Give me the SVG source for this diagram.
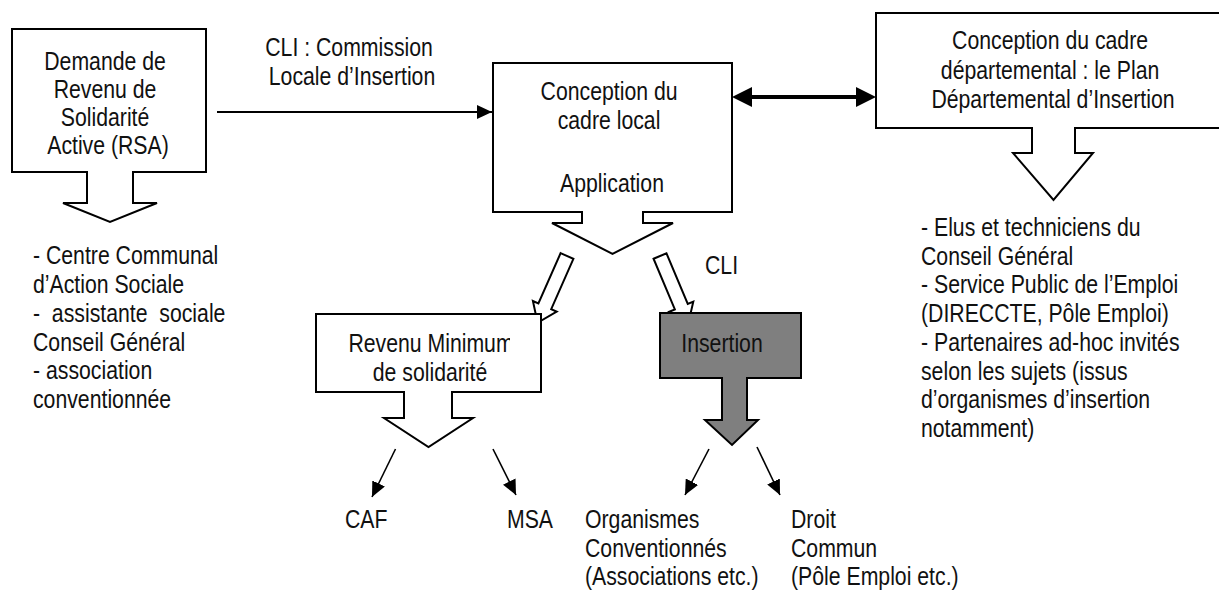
<svg xmlns="http://www.w3.org/2000/svg" width="1219" height="590" viewBox="0 0 1219 590">
  <style>
    .t { font-family: "Liberation Sans", Arial, sans-serif; font-size: 25px; fill: #111; }
    .c { text-anchor: middle; }
    .shape { fill: #fff; stroke: #000; stroke-width: 2; stroke-linejoin: miter; }
    .dark { fill: #7f7f7f; }
    .wire { fill: none; stroke: #000; stroke-width: 2; }
    .thin { fill: none; stroke: #000; stroke-width: 1.6; }
  </style>
  <defs>
    <marker id="head" markerWidth="15" markerHeight="14" refX="15" refY="7" orient="auto" markerUnits="userSpaceOnUse">
      <path d="M0,0 L15,7 L0,14 Z" fill="#000"/>
    </marker>
    <!-- hollow block arrow, pointing down in local space -->
    <path id="block" d="M-7,0 L7,0 L7,55 L13,55 L0,73 L-13,55 L-7,55 Z"/>
    <clipPath id="clipRevenu">
      <rect x="316" y="314" width="194" height="78"/>
    </clipPath>
  </defs>

  <g id="connectors">
    <!-- RSA request to local framework -->
    <line class="wire" x1="217" y1="112" x2="492" y2="112" marker-end="url(#head)"/>
    <!-- two-way link between local and departmental frameworks -->
    <path d="M732,97 L752,87 L752,95 L856,95 L856,87 L876,97 L856,107 L856,99 L752,99 L752,107 Z" fill="#000"/>
    <!-- hollow arrows from the application step -->
    <use href="#block" class="shape" transform="translate(567,256) rotate(23.8)"/>
    <use href="#block" class="shape" transform="translate(660,256) rotate(-22.8)"/>
    <!-- outcome arrows -->
    <line class="thin" x1="395.5" y1="449" x2="372" y2="497" marker-end="url(#head)"/>
    <line class="thin" x1="493" y1="449" x2="516" y2="495" marker-end="url(#head)"/>
    <line class="thin" x1="709" y1="449" x2="685" y2="495" marker-end="url(#head)"/>
    <line class="thin" x1="757" y1="447" x2="780" y2="495" marker-end="url(#head)"/>
  </g>

  <g id="node-rsa">
    <path class="shape" d="M12,29 H206 V172 H133 V203 H157 L110,222 L63,203 H87 V172 H12 Z"/>
    <text class="t c" transform="translate(108,0) scale(0.85,1)">
      <tspan x="0" y="70">Demande de</tspan>
      <tspan x="0" y="98">Revenu de</tspan>
      <tspan x="0" y="126">Solidarité</tspan>
      <tspan x="0" y="154">Active (RSA)</tspan>
    </text>
  </g>

  <g id="label-cli">
    <text class="t c" transform="translate(352,0) scale(0.85,1)">
      <tspan x="0" y="56">CLI : Commission</tspan>
      <tspan x="0" y="85">Locale d’Insertion</tspan>
    </text>
  </g>

  <g id="node-local">
    <path class="shape" d="M493,63 H732 V212 H643 V223 H673 L612.5,254 L552,223 H582 V212 H493 Z"/>
    <text class="t c" transform="translate(612,0) scale(0.85,1)">
      <tspan x="0" y="100">Conception du</tspan>
      <tspan x="0" y="129">cadre local</tspan>
      <tspan x="0" y="192">Application</tspan>
    </text>
  </g>

  <g id="node-departemental">
    <path class="shape" d="M876,13 H1232 V128 H1075 V153 H1093 L1053.5,200 L1013,153 H1032 V128 H876 Z"/>
    <text class="t c" transform="translate(1053,0) scale(0.85,1)">
      <tspan x="0" y="49.5">Conception du cadre</tspan>
      <tspan x="0" y="79">départemental : le Plan</tspan>
      <tspan x="0" y="108">Départemental d’Insertion</tspan>
    </text>
  </g>

  <g id="list-accueil">
    <text class="t" transform="translate(33,0) scale(0.85,1)">
      <tspan x="0" y="264">- Centre Communal</tspan>
      <tspan x="0" y="293">d’Action Sociale</tspan>
      <tspan x="0" y="322" xml:space="preserve">-  assistante  sociale</tspan>
      <tspan x="0" y="350.7">Conseil Général</tspan>
      <tspan x="0" y="379.5">- association</tspan>
      <tspan x="0" y="408">conventionnée</tspan>
    </text>
  </g>

  <g id="list-membres">
    <text class="t" transform="translate(921,0) scale(0.85,1)">
      <tspan x="0" y="236">- Elus et techniciens du</tspan>
      <tspan x="0" y="264.75">Conseil Général</tspan>
      <tspan x="0" y="293.5">- Service Public de l’Emploi</tspan>
      <tspan x="0" y="322.25">(DIRECCTE, Pôle Emploi)</tspan>
      <tspan x="0" y="351">- Partenaires ad-hoc invités</tspan>
      <tspan x="0" y="379.75">selon les sujets (issus</tspan>
      <tspan x="0" y="408.5">d’organismes d’insertion</tspan>
      <tspan x="0" y="437.25">notamment)</tspan>
    </text>
  </g>

  <g id="label-cli-2">
    <text class="t" transform="translate(705,274) scale(0.85,1)">CLI</text>
  </g>

  <g id="node-revenu">
    <path class="shape" d="M316,314 H541 V392 H452 V418 H473 L428.5,447 L384,418 H404 V392 H316 Z"/>
    <g clip-path="url(#clipRevenu)">
      <text class="t c" transform="translate(431,351.5) scale(0.85,1)">Revenu Minimum</text>
    </g>
    <text class="t c" transform="translate(430,380.5) scale(0.85,1)">de solidarité</text>
  </g>

  <g id="node-insertion">
    <path class="shape dark" d="M660,313 H801 V378 H747 V420 H758 L732,445 L705,420 H722 V378 H660 Z"/>
    <text class="t c" transform="translate(722,352) scale(0.85,1)">Insertion</text>
  </g>

  <g id="node-caf">
    <text class="t" transform="translate(345,527.5) scale(0.85,1)">CAF</text>
  </g>
  <g id="node-msa">
    <text class="t" transform="translate(507,527.5) scale(0.85,1)">MSA</text>
  </g>
  <g id="node-organismes">
    <text class="t" transform="translate(585,0) scale(0.85,1)">
      <tspan x="0" y="528">Organismes</tspan>
      <tspan x="0" y="557">Conventionnés</tspan>
      <tspan x="0" y="585.5">(Associations etc.)</tspan>
    </text>
  </g>
  <g id="node-droit">
    <text class="t" transform="translate(791,0) scale(0.85,1)">
      <tspan x="0" y="528">Droit</tspan>
      <tspan x="0" y="557">Commun</tspan>
      <tspan x="0" y="585.5">(Pôle Emploi etc.)</tspan>
    </text>
  </g>
</svg>
